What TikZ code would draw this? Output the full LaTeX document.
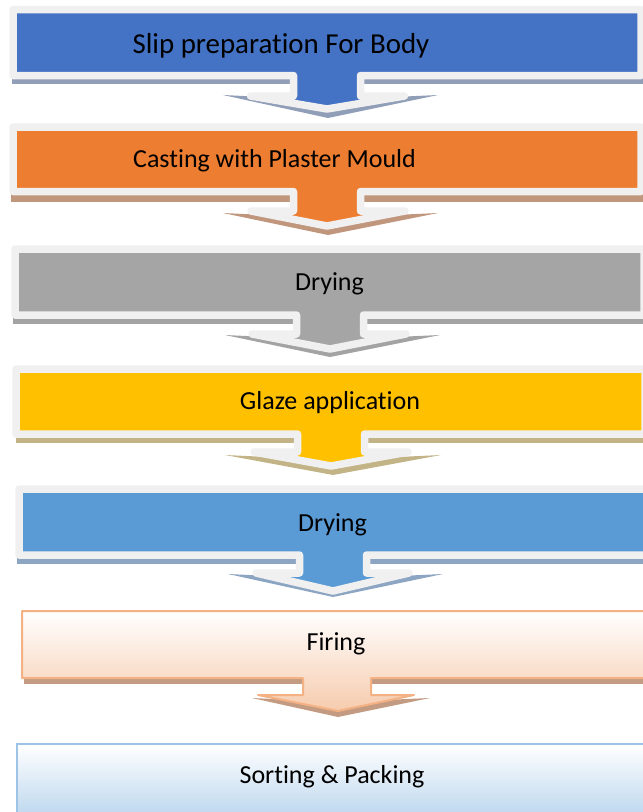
\documentclass[tikz,border=0pt]{standalone}
\usepackage{fontspec}
\setmainfont[Ligatures=NoCommon]{Carlito}
\definecolor{borderc}{RGB}{240,240,240}
\definecolor{cA}{HTML}{4472C4}
\definecolor{cB}{HTML}{ED7D31}
\definecolor{cC}{HTML}{A5A5A5}
\definecolor{cD}{HTML}{FFC000}
\definecolor{cE}{HTML}{5B9BD5}
\definecolor{sA}{RGB}{145,158,184}
\definecolor{sB}{RGB}{192,150,125}
\definecolor{sC}{RGB}{163,163,163}
\definecolor{sD}{RGB}{195,180,135}
\definecolor{sE}{RGB}{140,165,195}
\definecolor{sF}{RGB}{195,155,130}
\definecolor{fireline}{HTML}{F4B183}
\definecolor{firebot}{RGB}{246,203,173}
\definecolor{sortline}{HTML}{9DC3E6}
\definecolor{sortbot}{HTML}{BDD7EE}
\begin{document}
\begin{tikzpicture}[x=1pt,y=-1pt,
  stepshape/.style={draw=borderc, line width=7.5pt, line join=round},
  steptext/.style={anchor=base, inner sep=0pt, text=black, font=\fontsize{26}{30}\selectfont},
]
\useasboundingbox (0,0) rectangle (643,812);
\clip (0,0) rectangle (643,812);
% shadows
\fill[sA] (12,76) rectangle (650,83.5);
\fill[sA] (223,95) -- (328,118) -- (438,95) -- (328,100) -- cycle;
\fill[sB] (11,193) rectangle (650,202);
\fill[sB] (223,213) -- (328,235) -- (438,213) -- (328,218) -- cycle;
\fill[sC] (13,316) rectangle (650,323.5);
\fill[sC] (225,335) -- (330,357) -- (440,335) -- (330,340) -- cycle;
\fill[sD] (16,435) rectangle (650,443);
\fill[sD] (225,455) -- (333,475) -- (441,455) -- (333,460) -- cycle;
\fill[sE] (17,556) rectangle (650,564);
\fill[sE] (228,574) -- (333,597) -- (443,574) -- (333,579) -- cycle;
\fill[sF] (24,679) rectangle (650,684);
\fill[sF] (252,698) -- (338,717) -- (430,698) -- (338,702) -- cycle;
% shapes
\path[stepshape, fill=cA] (13,9.5) -- (641,9.5) -- (641,75.5) -- (360.5,75.5) -- (360.5,96) -- (404.5,96) -- (327,109) -- (250.5,96) -- (293.5,96) -- (293.5,75.5) -- (13,75.5) -- cycle;
\path[stepshape, fill=cB] (13,127) -- (641,127) -- (641,191.5) -- (360.5,191.5) -- (360.5,211) -- (405,211) -- (327,226) -- (251,211) -- (293.5,211) -- (293.5,191.5) -- (13,191.5) -- cycle;
\path[stepshape, fill=cC] (15,249) -- (644,249) -- (644,315) -- (363.5,315) -- (363.5,334) -- (406,334) -- (330,349) -- (252,334) -- (296.5,334) -- (296.5,315) -- (15,315) -- cycle;
\path[stepshape, fill=cD] (16,369) -- (645,369) -- (645,434) -- (364.5,434) -- (364.5,452) -- (408,452) -- (331,466) -- (254,452) -- (297.5,452) -- (297.5,434) -- (16,434) -- cycle;
\path[stepshape, fill=cE] (19,489) -- (647,489) -- (647,555) -- (366.5,555) -- (366.5,573) -- (409,573) -- (333,591) -- (256,573) -- (299.5,573) -- (299.5,555) -- (19,555) -- cycle;
\path[draw=fireline, line width=2pt, line join=round, top color=white, bottom color=firebot] (22,611) -- (650,611) -- (650,678) -- (371,678) -- (371,695) -- (414,695) -- (338,711) -- (258,695) -- (303,695) -- (303,678) -- (22,678) -- cycle;
\path[draw=sortline, line width=2pt, top color=white, bottom color=sortbot] (17,744) rectangle (650,816);
% texts
\node[steptext, font=\fontsize{28.9}{34}\selectfont] (t1) at (281,53) {Slip preparation For Body};
\node[steptext] (t2) at (274.5,167) {Casting with Plaster Mould};
\node[steptext] (t3) at (329.5,290) {Drying};
\node[steptext] (t4) at (330,409) {Glaze application};
\node[steptext] (t5) at (332.5,531) {Drying};
\node[steptext] (t6) at (336,650) {Firing};
\node[steptext] (t7) at (332,783) {Sorting \& Packing};
\end{tikzpicture}
\end{document}
